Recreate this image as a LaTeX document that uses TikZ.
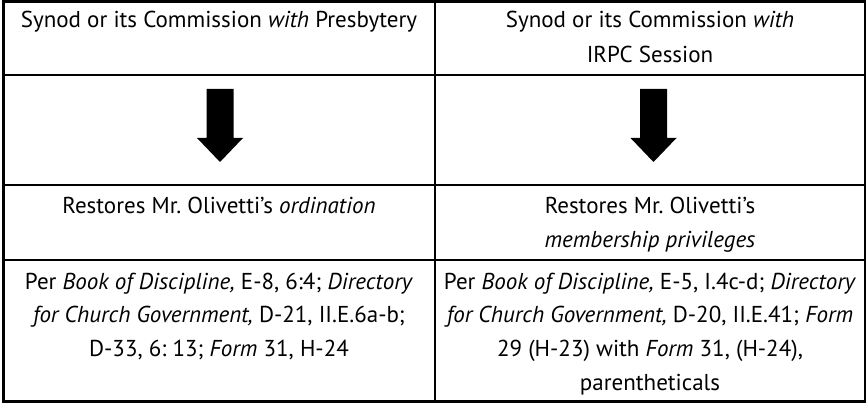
\documentclass[tikz,border=0pt]{standalone}
\usepackage{fontspec}
\setmainfont{PT Sans}
\frenchspacing
\begin{document}
\begin{tikzpicture}[x=1pt,y=-1pt,
  rule/.style={line width=2.2pt, line cap=rect},
  txt/.style={anchor=base, inner sep=0pt, font=\fontsize{23}{33}\selectfont\frenchspacing},
  bigarrow/.style={fill=black, draw=none}]
\useasboundingbox (0,0) rectangle (867,403);
% grid
\draw[rule] (3.5,1.5) rectangle (865,401.5);
\draw[rule] (435,1.5) -- (435,401.5);
\draw[rule] (3.5,75) -- (865,75);
\draw[rule] (3.5,185) -- (865,185);
\draw[rule] (3.5,260) -- (865,260);
% row 1
\node[txt] (l1) at (219,28) {Synod or its Commission \textit{with} Presbytery};
\node[txt] (r1a) at (650,28) {Synod or its Commission \textit{with}};
\node[txt] (r1b) at (650,63) {IRPC Session};
% arrows
\foreach \c/\n in {220/la, 653.5/ra}{
  \fill[bigarrow] (\c-13.5,89) -- (\c+13.5,89) -- (\c+13.5,138) -- (\c+23,138)
     -- (\c,162) -- (\c-23,138) -- (\c-13.5,138) -- cycle;
}
% row 3
\node[txt] (l3) at (219,214) {Restores Mr. Olivetti’s \textit{ordination}};
\node[txt] (r3a) at (650,214) {Restores Mr. Olivetti’s};
\node[txt] (r3b) at (650,248) {\textit{membership privileges}};
% row 4
\node[txt] (l4a) at (219,289) {Per \textit{Book of Discipline,} E-8, 6:4; \textit{Directory}};
\node[txt] (l4b) at (219,322) {\textit{for Church Government,} D-21, II.E.6a-b;};
\node[txt] (l4c) at (219,356) {D-33, 6: 13; \textit{Form} 31, H-24};
\node[txt] (r4a) at (650,289) {Per \textit{Book of Discipline,} E-5, I.4c-d; \textit{Directory}};
\node[txt] (r4b) at (650,322) {\textit{for Church Government,} D-20, II.E.41; \textit{Form}};
\node[txt] (r4c) at (650,356) {29 (H-23) with \textit{Form} 31, (H-24),};
\node[txt] (r4d) at (650,390) {parentheticals};
\end{tikzpicture}
\end{document}
